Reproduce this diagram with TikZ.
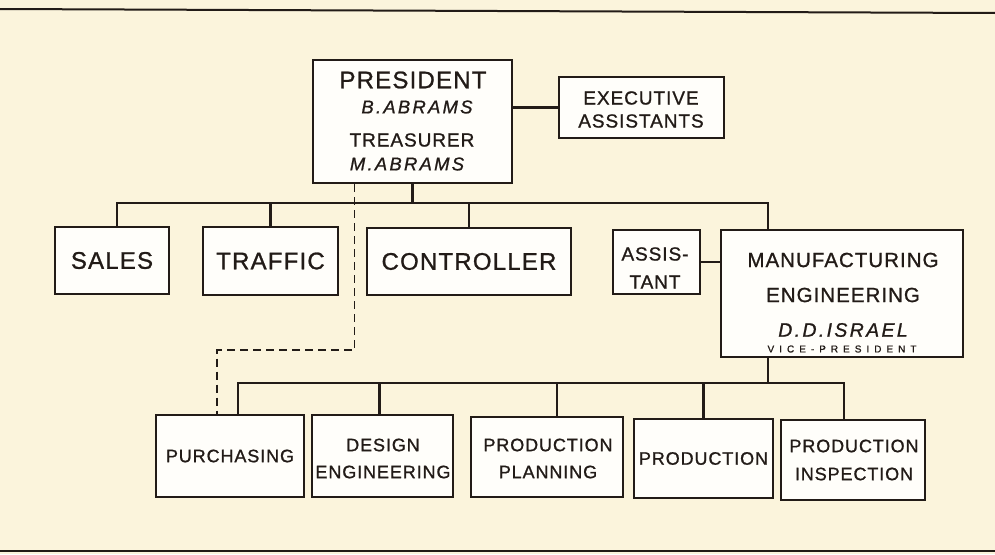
\documentclass[tikz,border=0pt]{standalone}
\usepackage{fontspec}
\newfontfamily\chart[LetterSpace=5,FakeBold=1]{Liberation Sans}
\newfontfamily\chartsm[LetterSpace=5,FakeBold=1]{Liberation Sans}
\newfontfamily\chartit[LetterSpace=12,FakeBold=1]{Liberation Sans}
\newfontfamily\chartvp[LetterSpace=50,FakeBold=1]{Liberation Sans}
\definecolor{paper}{RGB}{251,244,220}
\definecolor{ink}{RGB}{34,27,23}
\definecolor{card}{RGB}{255,254,250}
\begin{document}
\begin{tikzpicture}[x=1pt,y=-1pt,
  box/.style={draw=ink, line width=2pt, fill=card, inner sep=0pt, anchor=center, text=ink},
  lbl/.style={inner sep=0pt, anchor=center, text=ink},
  fL/.style={font=\chart\fontsize{24}{28}\selectfont},
  fM/.style={font=\chart\fontsize{19}{22}\selectfont},
  fMF/.style={font=\chart\fontsize{20.5}{24}\selectfont},
  fS/.style={font=\chartsm\fontsize{18}{21}\selectfont},
  fI/.style={font=\chartit\itshape\fontsize{18.5}{22}\selectfont},
  fV/.style={font=\chartvp\fontsize{10}{12}\selectfont},
  wire/.style={draw=ink, line width=2.5pt},
  dashwire/.style={draw=ink, line width=1.8pt, dash pattern=on 8pt off 5pt},
  frame/.style={draw=ink, line width=2pt}]

\useasboundingbox (0,0) rectangle (995,554);
\fill[paper] (0,0) rectangle (995,554);
\draw[frame] (0,9) -- (995,13);
\draw[frame] (0,551) -- (995,551);

% boxes
\node[box, minimum width=199, minimum height=123] (pres) at (412.5,121.5) {};
\node[box, minimum width=165, minimum height=61] (exec) at (641.5,107.5) {};
\node[box, fL, minimum width=114, minimum height=67] (sales) at (112,260.5) {SALES};
\node[box, fL, minimum width=135, minimum height=68] (traffic) at (270.5,261) {TRAFFIC};
\node[box, fL, minimum width=204, minimum height=67] (ctrl) at (469,261.5) {CONTROLLER};
\node[box, minimum width=87, minimum height=64] (assist) at (656.5,262) {};
\node[box, minimum width=242, minimum height=127] (manuf) at (842,293.5) {};
\node[box, fS, minimum width=148, minimum height=82] (purch) at (230,456) {PURCHASING};
\node[box, minimum width=141, minimum height=82] (design) at (382.5,456) {};
\node[box, minimum width=152, minimum height=80] (pplan) at (547,457) {};
\node[box, fS, minimum width=139, minimum height=79] (prod) at (703.5,458.5) {PRODUCTION};
\node[box, minimum width=144, minimum height=80] (insp) at (853,460) {};

% texts
\node[lbl, fL] (t1) at (413,80) {PRESIDENT};
\node[lbl, fI] (t2) at (417,107) {B.ABRAMS};
\node[lbl, fM] (t3) at (412,140) {TREASURER};
\node[lbl, fI] (t4) at (407,164) {M.ABRAMS};
\node[lbl, fM] (t5) at (641,98) {EXECUTIVE};
\node[lbl, fM] (t6) at (641,121) {ASSISTANTS};
\node[lbl, fM] (t7) at (655,254) {ASSIS-};
\node[lbl, fM] (t8) at (655,282) {TANT};
\node[lbl, fMF] (t9) at (843,260) {MANUFACTURING};
\node[lbl, fMF] (t10) at (843,295) {ENGINEERING};
\node[lbl, fI, font=\chartit\itshape\fontsize{19.5}{22}\selectfont] (t11) at (843,330) {D.D.ISRAEL};
\node[lbl, fV] (t12) at (842,349) {VICE-PRESIDENT};
\node[lbl, fS] (t13) at (383,445) {DESIGN};
\node[lbl, fS] (t14) at (383,472) {ENGINEERING};
\node[lbl, fS] (t15) at (548,445) {PRODUCTION};
\node[lbl, fS] (t16) at (548,472) {PLANNING};
\node[lbl, fS] (t17) at (854,446) {PRODUCTION};
\node[lbl, fS] (t18) at (854,474) {INSPECTION};

% bus levels
\coordinate (bus) at (0,203);
\coordinate (lbus) at (0,383);
\coordinate (dashy) at (0,350);

% upper connectors
\draw[wire] ([xshift=5]sales.north) |- ([xshift=-74]manuf.north |- bus) -- ([xshift=-74]manuf.north);
\draw[wire] (pres.south) -- (pres.south |- bus);
\draw[wire] (traffic.north) -- (traffic.north |- bus);
\draw[wire] (ctrl.north) -- (ctrl.north |- bus);
\draw[wire] (exec.west) -- (exec.west -| pres.east);
\draw[wire] (assist.east) -- (assist.east -| manuf.west);

% lower connectors
\draw[wire] ([xshift=-74]manuf.south) -- ([xshift=-74]manuf.south |- lbus);
\draw[wire] ([xshift=8]purch.north) |- ([xshift=-9]insp.north |- lbus) -- ([xshift=-9]insp.north);
\draw[wire] ([xshift=-3]design.north) -- ([xshift=-3]design.north |- lbus);
\draw[wire] ([xshift=10]pplan.north) -- ([xshift=10]pplan.north |- lbus);
\draw[wire] (prod.north) -- (prod.north |- lbus);

% dashed
\draw[dashwire] ([xshift=-58]pres.south) -- ([xshift=-58]pres.south |- dashy) -| ([xshift=-13]purch.north);
\end{tikzpicture}
\end{document}
